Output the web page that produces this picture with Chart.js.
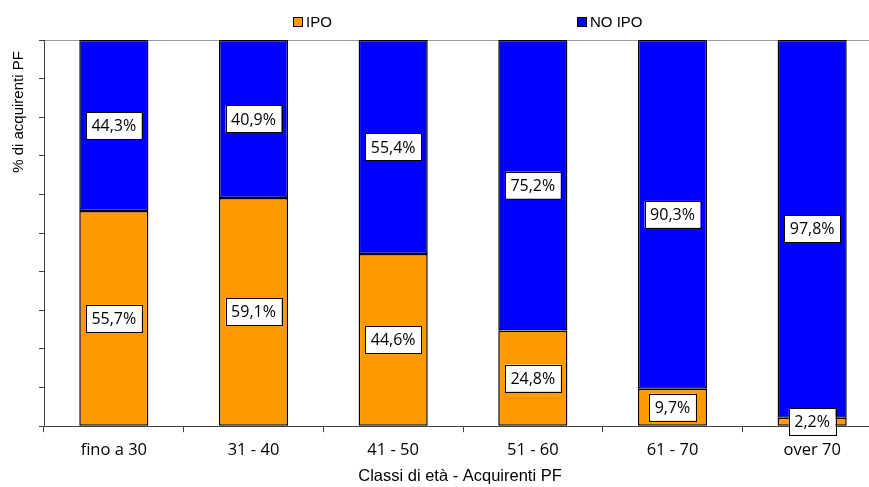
<!DOCTYPE html>
<html>
<head>
<meta charset="utf-8">
<script src="https://cdn.jsdelivr.net/npm/chart.js@4.4.0/dist/chart.umd.min.js"></script>
<style>
    html, body { margin: 0; padding: 0; background: #fff; overflow: hidden; }
    #wrap { width: 869px; height: 487px; overflow: hidden; position: relative; }
    #chart { position: absolute; left: 0; top: 0; }
</style>
</head>
<body>
<div id="wrap"><canvas id="chart" width="900" height="487"></canvas></div>
<script>
const categories = ['fino a 30', '31 - 40', '41 - 50', '51 - 60', '61 - 70', 'over 70'];
const ipoValues = [55.7, 59.1, 44.6, 24.8, 9.7, 2.2];
const noIpoValues = [44.3, 40.9, 55.4, 75.2, 90.3, 97.8];
const seriesNames = ['IPO', 'NO IPO'];
const yTitle = '% di acquirenti PF';
const xTitle = 'Classi di età - Acquirenti PF';

const labelFont = '16px "Open Sans", Lato, sans-serif';

// Legend, axis titles and value boxes drawn by hand
const extras = {
    id: 'extras',
    afterDraw(chart) {
        const ctx = chart.ctx;
        const area = chart.chartArea;
        ctx.save();

        // value boxes
        ctx.font = labelFont;
        ctx.textAlign = 'center';
        ctx.textBaseline = 'middle';
        chart.data.datasets.forEach((ds, i) => {
            chart.getDatasetMeta(i).data.forEach((bar, j) => {
                const text = ds.data[j].toFixed(1).replace('.', ',') + '%';
                const cy = (bar.y + bar.base) / 2;
                const w = ctx.measureText(text).width + 11;
                const h = 27;
                ctx.fillStyle = '#fff';
                ctx.fillRect(bar.x - w / 2, cy - h / 2, w, h);
                ctx.strokeStyle = '#000';
                ctx.lineWidth = 1;
                ctx.strokeRect(Math.round(bar.x - w / 2) + 0.5, Math.round(cy - h / 2) + 0.5, Math.round(w), h);
                ctx.fillStyle = '#000';
                ctx.fillText(text, bar.x, cy + 1);
            });
        });

        // legend
        const legendX = [293, 577];
        chart.data.datasets.forEach((ds, i) => {
            const x = legendX[i];
            ctx.fillStyle = ds.backgroundColor;
            ctx.fillRect(x, 17, 10, 10);
            ctx.strokeStyle = '#000';
            ctx.strokeRect(x + 0.5, 17.5, 9, 9);
            ctx.fillStyle = '#000';
            ctx.textAlign = 'left';
            ctx.font = '15px "Liberation Sans Narrow", "Liberation Sans", sans-serif';
            ctx.fillText(ds.label, x + 13, 23);
        });

        // axis titles
        ctx.fillStyle = '#000';
        ctx.textAlign = 'center';
        ctx.font = '16.5px "Liberation Sans", Arial, sans-serif';
        ctx.fillText(xTitle, (area.left + area.right) / 2 - 3, 476);
        ctx.font = '15px "Liberation Sans", Arial, sans-serif';
        ctx.translate(19, 112);
        ctx.rotate(-Math.PI / 2);
        ctx.fillText(yTitle, 0, 0);
        ctx.restore();
    }
};

new Chart(document.getElementById('chart').getContext('2d'), {
    type: 'bar',
    data: {
        labels: categories,
        datasets: [{
            label: seriesNames[0],
            data: ipoValues,
            backgroundColor: '#ff9900',
            borderColor: '#000',
            borderWidth: 1.5,
            borderSkipped: false
        }, {
            label: seriesNames[1],
            data: noIpoValues,
            backgroundColor: '#0000ff',
            borderColor: '#000',
            borderWidth: 1.5,
            borderSkipped: false
        }]
    },
    options: {
        responsive: false,
        animation: false,
        categoryPercentage: 1,
        barPercentage: 0.495,
        // plot runs a little past the right edge, canvas is clipped by #wrap
        layout: { padding: { left: 39, right: 18, top: 40, bottom: 19 } },
        plugins: {
            legend: { display: false },
            tooltip: { enabled: false }
        },
        scales: {
            x: {
                stacked: true,
                border: { color: '#404040', width: 1 },
                grid: {
                    color: 'transparent',
                    tickColor: '#404040',
                    tickLength: 6,
                    offset: true
                },
                ticks: {
                    color: '#000',
                    padding: 8,
                    font: { family: '"Open Sans", Lato, sans-serif', size: 16.5 }
                }
            },
            y: {
                stacked: true,
                min: 0,
                max: 100,
                border: { color: '#404040', width: 1 },
                grid: {
                    color: c => c.tick && c.tick.value === 100 ? '#9a9a9a' : 'transparent',
                    tickColor: '#404040',
                    tickLength: 5
                },
                ticks: { stepSize: 10, display: false }
            }
        }
    },
    plugins: [extras]
});
</script>
</body>
</html>
